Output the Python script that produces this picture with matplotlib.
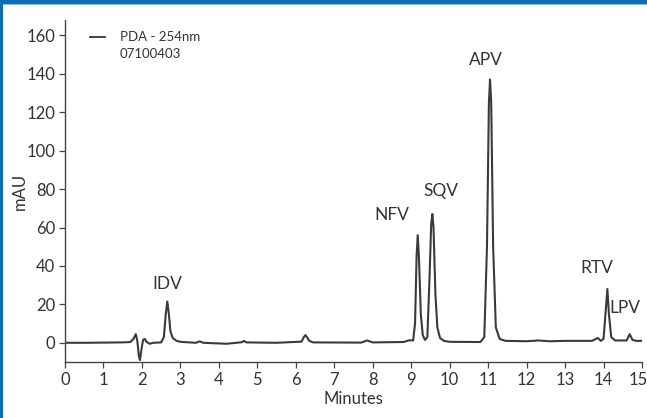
import matplotlib
matplotlib.use("Agg")
import matplotlib.pyplot as plt
import matplotlib.transforms as mtrans
from matplotlib.patches import Rectangle

plt.rcParams['font.family'] = ['Lato', 'DejaVu Sans']

# Chromatogram trace (time in minutes, absorbance in mAU)
times = [0.0, 0.5, 1.0, 1.5, 1.7, 1.78, 1.84, 1.88, 1.92, 1.95, 1.99, 2.03, 2.07, 2.12, 2.2, 2.3,
         2.5, 2.57, 2.62, 2.66, 2.7, 2.74, 2.8, 2.9, 3.0, 3.4, 3.5, 3.6, 4.2, 4.6, 4.65, 4.72,
         5.5, 6.15, 6.21, 6.25, 6.29, 6.35, 6.45, 7.7, 7.85, 8.0, 8.8, 8.95, 9.05, 9.1, 9.14,
         9.17, 9.2, 9.25, 9.3, 9.36, 9.42, 9.47, 9.52, 9.55, 9.58, 9.63, 9.68, 9.75, 9.85,
         10.0, 10.8, 10.9, 10.97, 11.02, 11.05, 11.08, 11.13, 11.2, 11.3, 11.45, 12.0, 12.3,
         12.6, 13.0, 13.7, 13.85, 13.93, 14.0, 14.05, 14.1, 14.14, 14.2, 14.3, 14.6, 14.68,
         14.75, 14.85, 15.0]
mau = [0.0, 0.0, 0.1, 0.2, 0.4, 2.0, 4.5, 1.0, -7.0, -9.0, -3.0, 1.5, 2.0, 0.5, -0.5, 0.0,
       0.2, 3.0, 15.0, 21.5, 15.0, 6.0, 2.5, 1.0, 0.5, 0.0, 0.7, 0.0, -0.5, 0.3, 1.0, 0.2,
       0.0, 0.6, 3.0, 4.0, 3.0, 1.0, 0.2, 0.1, 1.2, 0.2, 0.4, 1.3, 1.2, 10.0, 45.0,
       56.0, 45.0, 15.0, 4.0, 1.5, 3.0, 30.0, 62.0, 67.0, 60.0, 25.0, 8.0, 2.5, 1.0,
       0.5, 0.4, 3.0, 50.0, 125.0, 137.0, 125.0, 50.0, 8.0, 2.0, 1.0, 0.8, 1.2,
       0.8, 1.0, 1.0, 2.5, 1.0, 2.0, 15.0, 28.0, 15.0, 3.0, 1.2, 1.2, 4.5,
       1.5, 1.0, 1.0]

peak_names = ["IDV", "NFV", "SQV", "APV", "RTV", "LPV"]
label_x = [2.65, 8.49, 9.78, 10.95, 13.82, 14.55]
label_y = [30.5, 66.5, 79.0, 147.0, 39.0, 18.0]

x_ticks = list(range(0, 16))
y_ticks = list(range(0, 161, 20))

legend_lines = ["PDA - 254nm", "07100403"]

txt = '#333333'
fig = plt.figure(figsize=(6.47, 4.18), dpi=100)
ax = fig.add_axes([65/647, 1-362/418, 577/647, 342/418])

ax.plot(times, mau, color='#3a3a3a', lw=1.5, solid_joinstyle='round')
ax.set_xlim(0, 15)
ax.set_ylim(-10, 168)
ax.set_xticks(x_ticks)
ax.set_yticks(y_ticks)
ax.tick_params(direction='out', length=4, width=0.9, color='#444444',
               labelsize=12, labelcolor=txt, pad=3)
for s in ['top', 'right']:
    ax.spines[s].set_visible(False)
for s in ['left', 'bottom']:
    ax.spines[s].set_color('#444444')
    ax.spines[s].set_linewidth(1.0)

# keep the last x tick label inside the figure
last = ax.get_xticklabels()[-1]
last.set_transform(last.get_transform() + mtrans.ScaledTranslation(-4/100, 0, fig.dpi_scale_trans))

ax.set_xlabel('Minutes', fontsize=12, color=txt, labelpad=2)
ax.set_ylabel('mAU', fontsize=12, color=txt, labelpad=-1)

for n, lx, ly in zip(peak_names, label_x, label_y):
    ax.text(lx, ly, n, ha='center', va='center', fontsize=12.5, color=txt)

# legend
fig.add_artist(plt.Line2D([90/647, 105/647], [1-37/418, 1-37/418], color='#222222', lw=1.2))
fig.text(120/647, 1-37/418, legend_lines[0], fontsize=9.5, color=txt, va='center', ha='left')
fig.text(120/647, 1-54/418, legend_lines[1], fontsize=9.5, color=txt, va='center', ha='left')

# blue frame
fig.add_artist(Rectangle((0, 1-4/418), 1, 4/418, transform=fig.transFigure,
                         facecolor='#0f6cb0', edgecolor='none'))
fig.add_artist(Rectangle((0, 1-5/418), 1, 1/418, transform=fig.transFigure,
                         facecolor='#8ec3e6', edgecolor='none'))
fig.add_artist(Rectangle((0, 0), 3/647, 1, transform=fig.transFigure,
                         facecolor='#0f6cb0', edgecolor='none'))

fig.savefig('out.png', dpi=100)
